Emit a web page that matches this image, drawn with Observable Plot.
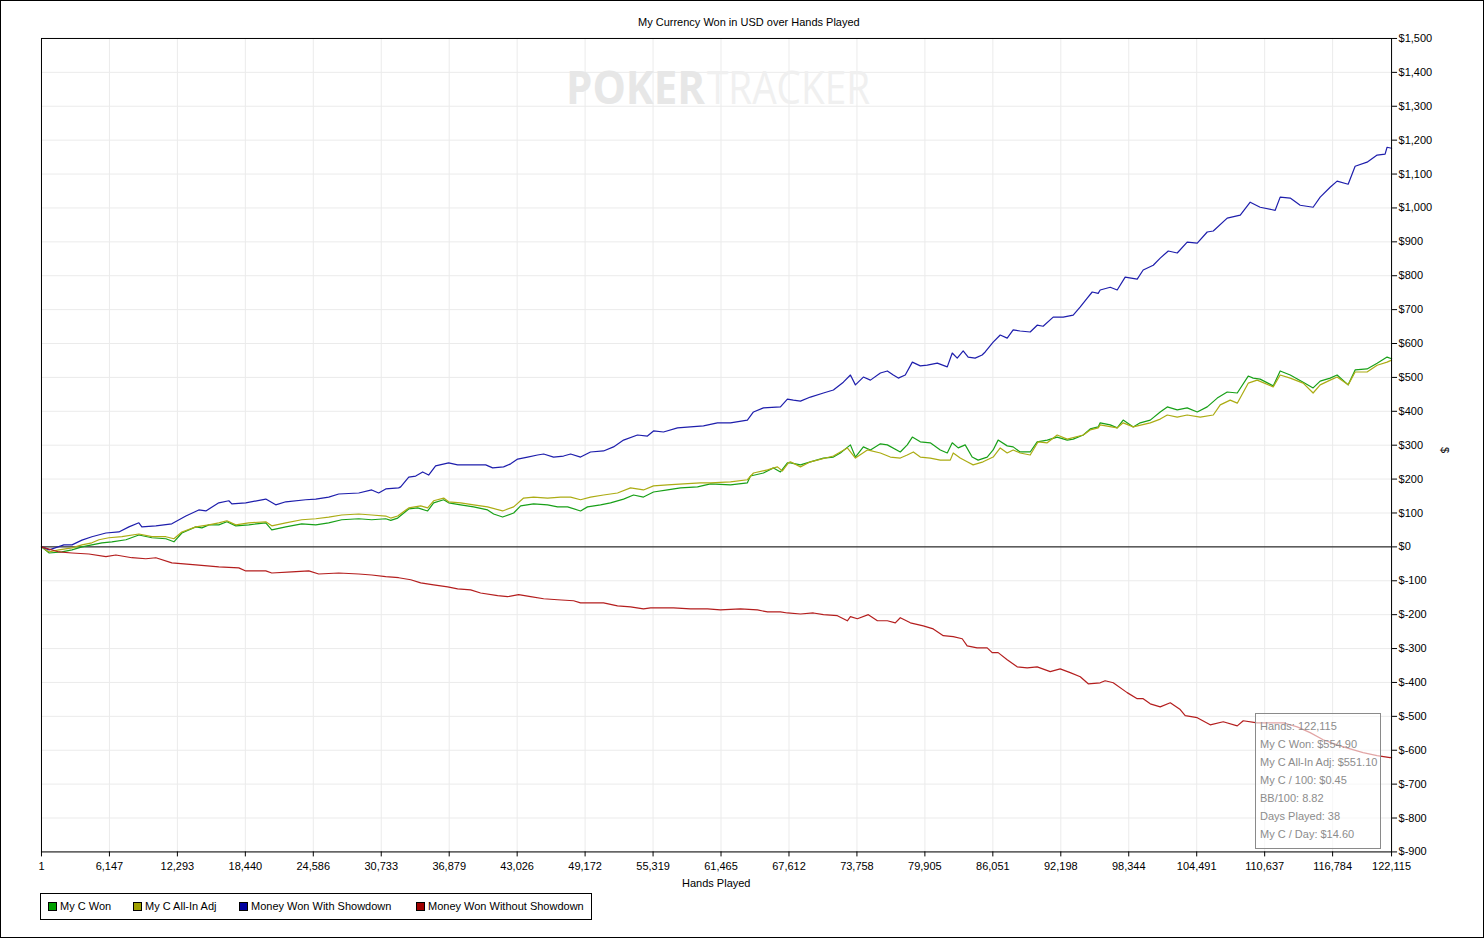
<!DOCTYPE html>
<html>
<head>
<meta charset="utf-8">
<script src="https://cdn.jsdelivr.net/npm/d3@7"></script>
<script src="https://cdn.jsdelivr.net/npm/@observablehq/plot@0.6"></script>
<style>
  html, body { margin: 0; padding: 0; background: #fff; overflow: hidden; }
  #page { position: relative; width: 1484px; height: 938px; box-sizing: border-box; border: 1px solid #000; font-family: "Liberation Sans", Arial, sans-serif; font-size: 11px; color: #000; }
  #chart { position: absolute; left: -1px; top: -1px; }
  .abs { position: absolute; white-space: nowrap; }
  #legend { position: absolute; left: 39px; top: 892px; width: 550px; height: 25px; border: 1px solid #000; }
  #legend .item { position: absolute; top: 6px; line-height: 13px; }
  #legend .sw { display: inline-block; width: 7px; height: 7px; border: 1px solid #000; margin-right: 3px; vertical-align: -1px; }
  #tip { position: absolute; left: 1254px; top: 712px; width: 124px; height: 134px; border: 1px solid #8a8a8a; background: rgba(255,255,255,0.6); color: #8c8c8c; }
  #tip div { position: absolute; left: 4px; line-height: 12px; }
</style>
</head>
<body>
<div id="page">
  <div id="chart"></div>
  <svg class="abs" style="left:-1px;top:-1px" width="1484" height="938">
    <text x="566" y="104" font-family="Open Sans, sans-serif" font-weight="bold" font-size="46" fill="#e7e7e7" textLength="139" lengthAdjust="spacingAndGlyphs">POKER</text>
    <text x="707" y="104" font-family="Open Sans, sans-serif" font-size="46" fill="#f0f0f0" textLength="163" lengthAdjust="spacingAndGlyphs">TRACKER</text>
  </svg>
  <div class="abs" style="left:637px;top:15px;">My Currency Won in USD over Hands Played</div>
  <div class="abs" style="left:681px;top:876px;">Hands Played</div>
  <div class="abs" style="left:1441px;top:443px;transform:rotate(90deg);transform-origin:center;">$</div>
  <div id="legend">
    <div class="item" style="left:7px"><span class="sw" style="background:#00a000"></span>My C Won</div>
    <div class="item" style="left:92px"><span class="sw" style="background:#a0a000"></span>My C All-In Adj</div>
    <div class="item" style="left:198px"><span class="sw" style="background:#0000a0"></span>Money Won With Showdown</div>
    <div class="item" style="left:375px"><span class="sw" style="background:#a00000"></span>Money Won Without Showdown</div>
  </div>
  <div id="tip">
    <div style="top:6px">Hands: 122,115</div>
    <div style="top:24px">My C Won: $554.90</div>
    <div style="top:42px">My C All-In Adj: $551.10</div>
    <div style="top:60px">My C / 100: $0.45</div>
    <div style="top:78px">BB/100: 8.82</div>
    <div style="top:96px">Days Played: 38</div>
    <div style="top:114px">My C / Day: $14.60</div>
  </div>
</div>
<script>
const xTicks = [1, 6147, 12293, 18440, 24586, 30733, 36879, 43026, 49172, 55319, 61465, 67612, 73758, 79905, 86051, 92198, 98344, 104491, 110637, 116784, 122115];
const yTicks = [-900,-800,-700,-600,-500,-400,-300,-200,-100,0,100,200,300,400,500,600,700,800,900,1000,1100,1200,1300,1400,1500];

// Money Won With Showdown
const blueHands = [1,700,2030,2760,3660,4560,5830,7000,7910,8810,9080,10350,11790,13060,14230,14870,16040,16950,17220,18480,20290,21190,22100,23900,24810,25980,26890,28700,29870,30500,31140,32310,32490,33220,33850,34480,35020,35650,36830,37640,39090,40180,40810,41800,42440,43070,43970,44870,45420,46320,47220,47860,48760,49660,50840,51740,52650,53910,54810,55360,56260,57530,58700,59880,61140,62320,63850,64400,65300,66840,67470,68010,68650,69550,70730,71630,72530,73170,73620,74340,74980,75880,76510,77050,77500,78130,78770,79490,80120,81030,81930,82380,82830,83370,83820,84450,85080,85360,86080,86720,87350,87890,88520,89430,90060,90600,91510,92420,93320,93960,94590,95040,95580,95760,96670,97300,98020,99110,99650,100560,101190,101920,102730,103630,104540,105440,105990,107250,108430,109330,110230,111590,112040,112950,113850,115020,115660,116560,117190,118190,118820,119900,120810,121530,121710,122115];
const blueValues = [0,-9,6,6,20,30,41,44,59,71,59,62,68,91,109,106,130,136,127,130,141,124,133,139,141,147,156,159,168,159,171,174,177,206,209,221,212,239,248,242,242,242,233,236,245,259,265,271,274,265,268,274,265,280,283,295,315,330,327,342,339,351,354,357,366,366,374,398,410,413,436,433,430,442,454,463,486,507,478,501,492,513,519,507,498,507,545,534,536,542,531,572,557,578,560,557,566,575,604,625,616,640,637,634,654,651,678,678,684,708,734,752,748,758,766,758,796,790,817,831,852,873,867,899,896,929,932,970,979,1017,1002,993,1032,1029,1008,1002,1032,1061,1079,1070,1123,1135,1156,1159,1179,1176];

// My C Won
const greenHands = [1,700,1850,2760,3660,4560,5470,6370,7640,8810,9990,11250,11980,12700,13960,14510,15140,16040,16770,17580,18750,20290,20830,22100,23540,24810,25980,27160,28700,29870,31140,31590,32220,33220,34030,34930,35470,36380,36830,37910,39090,40350,40900,41710,42710,43340,44510,45780,46680,47590,48760,49390,50570,51470,52650,53550,54450,55360,56630,57800,59340,60510,62320,63850,64130,65300,66210,66840,67470,67740,68650,69550,70730,71630,72260,73170,73620,74340,74980,75880,76510,77680,78310,78770,79490,80390,81300,81930,82380,82920,83550,84180,84720,85540,86080,86530,87350,87890,88520,89430,90060,90970,91870,92780,93320,94230,94860,95580,95760,96670,97300,97840,98750,99380,100290,101190,101830,102730,103630,104540,105440,106350,107250,108160,109150,109600,110230,111410,112040,112950,114120,115020,115660,116560,117190,118190,118820,119900,120810,121710,122115];
const greenValues = [0,-18,-15,-9,0,6,12,15,21,35,27,24,15,41,59,56,65,65,74,62,65,71,50,59,68,65,71,80,83,80,83,78,85,112,115,106,130,139,130,124,118,109,97,88,100,121,127,124,118,118,106,118,124,130,141,153,147,162,168,174,177,186,183,189,209,218,233,221,248,248,242,251,262,265,277,301,265,295,286,304,301,280,301,324,310,307,286,277,307,292,301,265,256,265,286,315,298,295,280,280,310,315,324,315,318,330,348,354,366,360,351,374,354,366,374,398,413,404,410,398,413,439,457,454,504,498,495,475,519,507,486,469,489,498,507,478,522,525,542,560,554.9];

// My C All-In Adj
const yellowHands = [1,700,1580,2760,3660,4560,5200,6100,7280,8810,9990,11250,11980,12700,13960,15140,16040,16770,17580,18750,20290,20830,22100,23540,24810,25980,27160,28700,29870,31140,31590,32220,33220,34300,34930,35470,36380,36830,37910,39090,40350,41710,42710,43610,44510,45780,46950,47860,48760,49660,50840,52100,53280,54450,55360,56630,58070,59610,60510,62320,63850,64400,65670,66570,67020,67560,67740,68650,69550,71630,72890,73620,74700,75880,76780,77680,78310,78860,79490,80390,81300,82200,82470,83100,83730,84270,85170,86080,86720,87350,87890,88520,89430,90150,90970,91870,92780,94230,94860,95580,95760,97300,97840,98750,100290,101190,101830,102730,103630,104810,105990,106620,107520,108160,109150,109960,111410,112040,112950,114120,115020,115660,116560,117190,118190,118820,119900,120810,121710,122115];
const yellowValues = [0,-15,-9,-3,6,12,21,27,30,38,30,30,24,44,59,65,71,77,65,71,74,62,71,80,83,88,94,97,94,91,85,91,115,121,115,136,144,133,130,124,118,106,118,144,147,144,147,147,139,147,153,159,174,168,180,183,186,189,189,192,198,218,227,236,224,248,251,236,251,268,292,262,286,277,265,262,271,280,265,262,256,256,277,262,251,242,251,265,292,277,286,277,271,310,307,330,318,330,345,351,360,351,366,354,366,377,389,383,389,383,389,419,433,424,483,492,472,507,498,483,454,478,492,501,478,516,516,536,545,551.1];

// Money Won Without Showdown
const redHands = [1,1580,2760,4290,5830,6730,8180,9440,10350,11790,13960,16040,17850,18480,20290,20830,22640,24180,25080,26890,28700,29870,31140,32310,33400,34300,35470,36740,37640,38820,39720,41260,42160,43160,44240,45420,46680,48130,48760,50840,52100,53280,54450,55090,57170,58700,60240,61410,63220,64760,65670,66840,67470,68650,69820,70730,71990,72890,73170,73800,74790,75610,76510,77230,77680,78590,79760,80660,81570,82470,83280,83730,84630,85540,85990,86530,87350,88250,89160,90060,91240,92140,93050,93960,94680,95760,96210,96940,98200,99110,99650,100290,101190,102100,103000,103450,104540,105710,106890,108160,108700,109960,111140,112310,113580,114750,115930,117190,118370,119540,120810,121980,122115];
const redValues = [0,-15,-18,-21,-29,-24,-32,-35,-32,-47,-53,-59,-62,-71,-71,-77,-74,-71,-80,-77,-80,-83,-88,-91,-97,-106,-112,-118,-124,-127,-136,-144,-147,-141,-147,-153,-156,-159,-165,-165,-174,-177,-183,-180,-180,-183,-183,-186,-183,-186,-192,-192,-195,-198,-195,-200,-203,-218,-206,-212,-200,-218,-218,-224,-209,-224,-233,-242,-262,-265,-271,-292,-298,-298,-312,-312,-333,-354,-357,-354,-368,-360,-371,-383,-404,-401,-395,-401,-430,-448,-448,-463,-472,-460,-480,-498,-504,-525,-516,-528,-513,-519,-519,-519,-531,-548,-569,-584,-596,-607,-616,-622,-621];

const toRows = (hs, vs) => hs.map((h, i) => ({h, v: vs[i]}));
const fmtY = d => "$" + (d < 0 ? "-" : "") + d3.format(",")(Math.abs(d));

const chart = Plot.plot({
  width: 1484,
  height: 938,
  marginLeft: 41,
  marginRight: 92,
  marginTop: 38,
  marginBottom: 86,
  style: {fontFamily: "Liberation Sans, Arial, sans-serif", fontSize: "11px", color: "#000", background: "transparent", overflow: "visible"},
  x: {type: "linear", domain: [1, 122115]},
  y: {type: "linear", domain: [-900, 1500]},
  marks: [
    Plot.gridX({ticks: xTicks, stroke: "#ebebeb", strokeOpacity: 1}),
    Plot.gridY({ticks: yTicks, stroke: "#ebebeb", strokeOpacity: 1}),
    Plot.ruleY([0], {stroke: "#000", strokeWidth: 1}),
    Plot.line(toRows(greenHands, greenValues), {x: "h", y: "v", stroke: "#18a018", strokeWidth: 1.2}),
    Plot.line(toRows(yellowHands, yellowValues), {x: "h", y: "v", stroke: "#acac14", strokeWidth: 1.2}),
    Plot.line(toRows(blueHands, blueValues), {x: "h", y: "v", stroke: "#1e1eac", strokeWidth: 1.2}),
    Plot.line(toRows(redHands, redValues), {x: "h", y: "v", stroke: "#b41e1e", strokeWidth: 1.2}),
    Plot.frame({stroke: "#000"}),
    Plot.axisX({ticks: xTicks, tickFormat: d3.format(","), tickSize: 5, tickPadding: 5, label: null, stroke: "#000"}),
    Plot.axisY({ticks: yTicks, anchor: "right", tickFormat: fmtY, tickSize: 5, tickPadding: 2, label: null, stroke: "#000"})
  ]
});
document.getElementById("chart").appendChild(chart);
</script>
</body>
</html>
